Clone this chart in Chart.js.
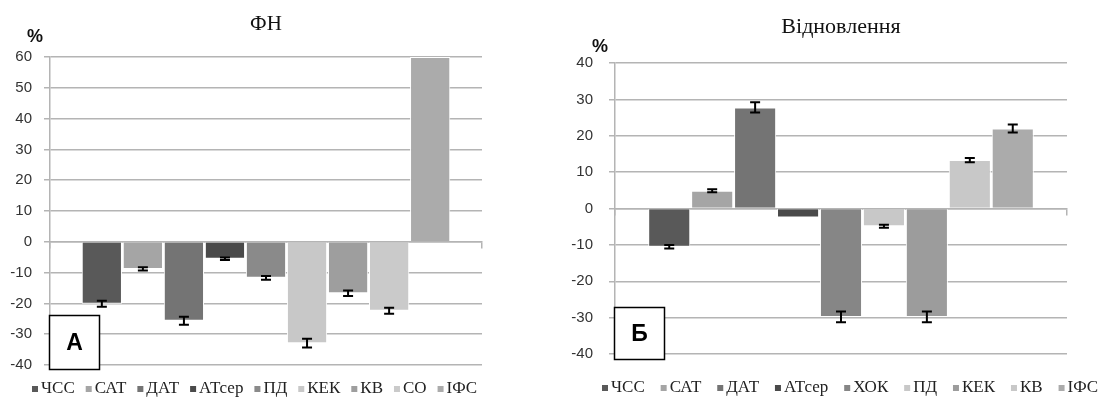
<!DOCTYPE html>
<html>
<head>
<meta charset="utf-8">
<script src="https://cdn.jsdelivr.net/npm/chart.js@4.4.1/dist/chart.umd.min.js"></script>
<style>
  html, body { margin: 0; padding: 0; background: #fff; }
  #wrap { position: relative; width: 1120px; height: 399px; overflow: hidden; }
  canvas { position: absolute; top: 0; }
</style>
</head>
<body>
<div id="wrap">
  <canvas id="chartA" width="560" height="399" style="left:0"></canvas>
  <canvas id="chartB" width="560" height="399" style="left:560px"></canvas>
</div>
<script>
// ---- Panel А: ФН ----
const panelATitle = 'ФН';
const panelALetter = 'А';
const panelASeries = ['ЧСС', 'САТ', 'ДАТ', 'АТсер', 'ПД', 'КЕК', 'КВ', 'СО', 'ІФС'];
const panelAValues = [-20.1, -8.8, -25.6, -5.5, -11.7, -32.9, -16.7, -22.4, 60];
const panelAErrors = [1.0, 0.5, 1.3, 0.4, 0.6, 1.4, 0.9, 1.0, 0];
const panelAColors = ['#595959', '#a5a5a5', '#747474', '#4a4a4a', '#8a8a8a', '#c8c8c8', '#9e9e9e', '#cacaca', '#ababab'];
const panelATicks = [-40, -30, -20, -10, 0, 10, 20, 30, 40, 50, 60];

// ---- Panel Б: Відновлення ----
const panelBTitle = 'Відновлення';
const panelBLetter = 'Б';
const panelBSeries = ['ЧСС', 'САТ', 'ДАТ', 'АТсер', 'ХОК', 'ПД', 'КЕК', 'КВ', 'ІФС'];
const panelBValues = [-10.5, 4.9, 27.8, -2.5, -29.8, -4.9, -29.8, 13.3, 22.0];
const panelBErrors = [0.5, 0.4, 1.4, 0, 1.5, 0.4, 1.5, 0.6, 1.1];
const panelBColors = ['#595959', '#a5a5a5', '#747474', '#4a4a4a', '#868686', '#c8c8c8', '#9c9c9c', '#c8c8c8', '#ababab'];
const panelBTicks = [-40, -30, -20, -10, 0, 10, 20, 30, 40];

const GRID = '#b4b4b4';
const TEXT = '#333333';

// Error bars (mean ± error) drawn on top of each bar
const errorBarPlugin = {
  id: 'errorBars',
  afterDatasetsDraw(chart, args, opts) {
    const ctx = chart.ctx;
    const y = chart.scales.y;
    const area = chart.chartArea;
    ctx.save();
    ctx.beginPath();
    ctx.rect(area.left, area.top, area.right - area.left, area.bottom - area.top);
    ctx.clip();
    ctx.strokeStyle = '#000';
    ctx.lineWidth = 2;
    chart.data.datasets.forEach((ds, i) => {
      const err = opts.errors[i];
      if (!err) return;
      const bar = chart.getDatasetMeta(i).data[0];
      const v = ds.data[0];
      const y1 = y.getPixelForValue(v + err);
      const y2 = y.getPixelForValue(v - err);
      const x = bar.x;
      ctx.beginPath();
      ctx.moveTo(x, y1); ctx.lineTo(x, y2);
      ctx.moveTo(x - 5, y1); ctx.lineTo(x + 5, y1);
      ctx.moveTo(x - 5, y2); ctx.lineTo(x + 5, y2);
      ctx.stroke();
    });
    ctx.restore();
  }
};

// Title, unit label, legend row and panel letter
const decorPlugin = {
  id: 'decor',
  afterDraw(chart, args, o) {
    const ctx = chart.ctx;
    const area = chart.chartArea;
    ctx.save();
    // title
    ctx.fillStyle = '#111';
    ctx.font = o.titleSize + 'px "Liberation Serif", serif';
    ctx.textAlign = 'center';
    ctx.textBaseline = 'middle';
    ctx.fillText(o.title, (area.left + area.right) / 2, o.titleY);
    // unit
    ctx.font = 'bold 18px "Liberation Sans", Arial, sans-serif';
    ctx.fillStyle = '#111';
    ctx.fillText('%', o.unitX, o.unitY);
    // legend
    ctx.font = '17px "Liberation Serif", serif';
    ctx.textAlign = 'left';
    ctx.fillStyle = '#222';
    const ds = chart.data.datasets;
    const widths = ds.map(d => 9 + ctx.measureText(d.label).width);
    const total = widths.reduce((a, b) => a + b, 0);
    const gap = (o.legendEnd - o.legendStart - total) / (ds.length - 1);
    let x = o.legendStart;
    ds.forEach((d, i) => {
      ctx.fillStyle = d.backgroundColor;
      ctx.fillRect(x, o.legendY - 3, 6, 6);
      ctx.fillStyle = '#222';
      ctx.fillText(d.label, x + 9, o.legendY);
      x += widths[i] + gap;
    });
    // panel letter box
    const b = o.box;
    ctx.fillStyle = '#fff';
    ctx.fillRect(b.x, b.y, b.w, b.h);
    ctx.strokeStyle = '#000';
    ctx.lineWidth = 1.5;
    ctx.strokeRect(b.x, b.y, b.w, b.h);
    ctx.fillStyle = '#000';
    ctx.font = 'bold 23px "Liberation Sans", Arial, sans-serif';
    ctx.textAlign = 'center';
    ctx.textBaseline = 'middle';
    ctx.fillText(o.letter, b.x + b.w / 2, b.y + b.h / 2 + 1);
    ctx.restore();
  }
};

function buildChart(canvasId, p) {
  const datasets = p.series.map((name, i) => ({
    label: name,
    data: [p.values[i]],
    backgroundColor: p.colors[i],
    borderColor: '#ffffff',
    borderWidth: 1,
    borderSkipped: 'start',
    categoryPercentage: 0.855,
    barPercentage: 0.98
  }));
  return new Chart(document.getElementById(canvasId), {
    type: 'bar',
    data: { labels: [p.title], datasets },
    plugins: [errorBarPlugin, decorPlugin],
    options: {
      responsive: false,
      devicePixelRatio: 1,
      animation: false,
      layout: { padding: p.padding },
      plugins: {
        legend: { display: false },
        title: { display: false },
        tooltip: { enabled: false },
        errorBars: { errors: p.errors },
        decor: p.decor
      },
      scales: {
        x: {
          type: 'category',
          position: { y: 0 },
          offset: true,
          grid: { offset: true, drawOnChartArea: false, drawTicks: true, tickLength: 6, color: GRID, lineWidth: 1.5 },
          border: { display: true, color: GRID, width: 1.5 },
          ticks: { display: false }
        },
        y: {
          min: p.ticks[0],
          max: p.ticks[p.ticks.length - 1],
          afterFit: (s) => { s.width = p.axisWidth; },
          afterBuildTicks: (s) => { s.ticks = p.ticks.map(v => ({ value: v })); },
          grid: { color: GRID, lineWidth: 1.5, drawTicks: true, tickLength: 6 },
          border: { display: true, color: GRID, width: 1.5 },
          ticks: {
            padding: p.tickPad,
            color: TEXT,
            font: { family: '"Liberation Sans", Arial, sans-serif', size: 15 }
          }
        }
      }
    }
  });
}

buildChart('chartA', {
  title: panelATitle, series: panelASeries, values: panelAValues, errors: panelAErrors,
  colors: panelAColors, ticks: panelATicks,
  padding: { left: 0, top: 57, right: 78, bottom: 34 },
  axisWidth: 50, tickPad: 12,
  decor: {
    title: panelATitle, titleSize: 21, titleY: 24,
    unitX: 35, unitY: 37,
    legendStart: 32, legendEnd: 477, legendY: 389,
    letter: panelALetter, box: { x: 49.5, y: 315.5, w: 50, h: 54 }
  }
});

buildChart('chartB', {
  title: panelBTitle, series: panelBSeries, values: panelBValues, errors: panelBErrors,
  colors: panelBColors, ticks: panelBTicks,
  padding: { left: 0, top: 63, right: 53, bottom: 45 },
  axisWidth: 55, tickPad: 16,
  decor: {
    title: panelBTitle, titleSize: 22, titleY: 27,
    unitX: 40, unitY: 47,
    legendStart: 42, legendEnd: 538, legendY: 388,
    letter: panelBLetter, box: { x: 54.5, y: 307.5, w: 50, h: 52 }
  }
});
</script>
</body>
</html>
